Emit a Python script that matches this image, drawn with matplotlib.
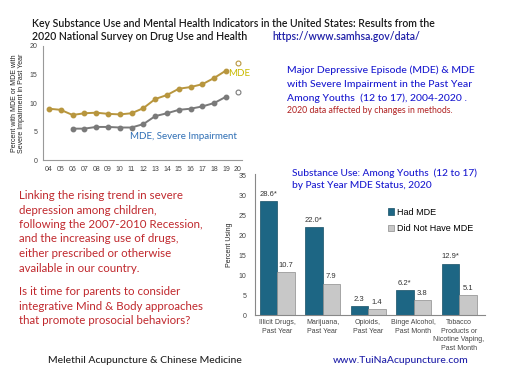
import matplotlib
matplotlib.use("Agg")
import matplotlib.pyplot as plt
from matplotlib.patches import Patch

# line chart data (MDE among youths 12-17)
years = [2004, 2005, 2006, 2007, 2008, 2009, 2010, 2011, 2012, 2013, 2014, 2015, 2016, 2017, 2018, 2019]
mde = [9.0, 8.8, 7.9, 8.2, 8.3, 8.1, 8.0, 8.2, 9.1, 10.7, 11.4, 12.5, 12.8, 13.3, 14.4, 15.7]
sev_years = [2006, 2007, 2008, 2009, 2010, 2011, 2012, 2013, 2014, 2015, 2016, 2017, 2018, 2019]
sev = [5.5, 5.5, 5.8, 5.8, 5.7, 5.7, 6.3, 7.7, 8.2, 8.8, 9.0, 9.4, 10.0, 11.1]
mde_2020 = 17.0
sev_2020 = 12.0
year_labels = ["04", "05", "06", "07", "08", "09", "10", "11", "12", "13",
               "14", "15", "16", "17", "18", "19", "20"]

# bar chart data
categories = ["Illicit Drugs,\nPast Year", "Marijuana,\nPast Year", "Opioids,\nPast Year",
              "Binge Alcohol,\nPast Month", "Tobacco\nProducts or\nNicotine Vaping,\nPast Month"]
had_mde = [28.6, 22.0, 2.3, 6.2, 12.9]
no_mde = [10.7, 7.9, 1.4, 3.8, 5.1]
had_lbl = ["28.6*", "22.0*", "2.3", "6.2*", "12.9*"]
no_lbl = ["10.7", "7.9", "1.4", "3.8", "5.1"]

W, H = 512, 384
fig = plt.figure(figsize=(5.12, 3.84), dpi=100)
fig.patch.set_facecolor("white")

def px(x, y):
    return x / W, 1 - y / H

def rect(x0, y0, x1, y1):
    return [x0 / W, 1 - y1 / H, (x1 - x0) / W, (y1 - y0) / H]

body = "Lato"
narrow = ["Liberation Sans Narrow", "Liberation Sans", "DejaVu Sans"]
gray_txt = "#444444"

# ---- line chart
ax1 = fig.add_axes(rect(43, 46, 242, 160))
ax1.plot(years, mde, color="#b8963e", lw=1.4, marker="o", ms=3.2)
ax1.plot(sev_years, sev, color="#7a7a7a", lw=1.4, marker="o", ms=3.2)
ax1.plot([2020], [mde_2020], marker="o", ms=3.5, mfc="white", mec="#b8963e", mew=0.8)
ax1.plot([2020], [sev_2020], marker="o", ms=3.5, mfc="white", mec="#7a7a7a", mew=0.8)
ax1.set_xlim(2003.5, 2020.35)
ax1.set_ylim(0, 20)
ax1.set_yticks([0, 5, 10, 15, 20])
ax1.set_xticks(list(range(2004, 2021)))
ax1.set_xticklabels(year_labels)
ax1.tick_params(length=0, labelsize=5, colors=gray_txt, pad=4)
for lab in ax1.get_xticklabels() + ax1.get_yticklabels():
    lab.set_family(narrow)
for s in ["top", "right"]:
    ax1.spines[s].set_visible(False)
for s in ["left", "bottom"]:
    ax1.spines[s].set_color("#999999")
    ax1.spines[s].set_linewidth(0.8)
ax1.set_ylabel("Percent with MDE or MDE with\nSevere Impairment in Past Year",
               fontsize=5, family=narrow, color="#222222", linespacing=1.0)
ax1.yaxis.set_label_coords(-0.09, 0.5)
fig.text(*px(228, 73), "MDE", fontsize=7, family=body, color="#c9ba00", va="center")
fig.text(*px(130, 137), "MDE, Severe Impairment", fontsize=7, family=body,
         color="#2f6fb5", va="center")

# ---- bar chart
ax2 = fig.add_axes(rect(255, 173.7, 485, 315))
xs = list(range(len(categories)))
bw = 0.385
ax2.bar([x - bw / 2 for x in xs], had_mde, bw, color="#1d6684", edgecolor="#164f66", lw=0.5)
ax2.bar([x + bw / 2 for x in xs], no_mde, bw, color="#c8c8c8", edgecolor="#8c8c8c", lw=0.5)
for x, v, t in zip(xs, had_mde, had_lbl):
    ax2.text(x - bw / 2, v + 0.8, t, ha="center", va="bottom", fontsize=5.5,
             family=narrow, color="#333333")
for x, v, t in zip(xs, no_mde, no_lbl):
    ax2.text(x + bw / 2, v + 0.8, t, ha="center", va="bottom", fontsize=5.5,
             family=narrow, color="#333333")
ax2.set_xlim(-0.484, 4.57)
ax2.set_ylim(0, 35.5)
ax2.set_yticks(range(0, 36, 5))
ax2.set_xticks(xs)
ax2.set_xticklabels(categories, linespacing=1.3)
ax2.tick_params(length=0, labelsize=5, colors=gray_txt, pad=3)
ax2.tick_params(axis="y", pad=6)
for lab in ax2.get_xticklabels() + ax2.get_yticklabels():
    lab.set_family(narrow)
for lab in ax2.get_xticklabels():
    lab.set_va("top")
for s in ["top", "right"]:
    ax2.spines[s].set_visible(False)
for s in ["left", "bottom"]:
    ax2.spines[s].set_color("#888888")
    ax2.spines[s].set_linewidth(0.8)
ax2.set_ylabel("Percent Using", fontsize=5, family=narrow, color="#222222", labelpad=4)
handles = [Patch(facecolor="#1d6684", edgecolor="#164f66", lw=0.5, label="Had MDE"),
           Patch(facecolor="#c8c8c8", edgecolor="#8c8c8c", lw=0.5, label="Did Not Have MDE")]
fig.legend(handles=handles, loc="upper left", bbox_to_anchor=px(384, 204), frameon=False,
           prop={"family": narrow, "size": 6.5}, handlelength=0.7, handleheight=0.7,
           handletextpad=0.3, labelspacing=0.8, borderaxespad=0)

# ---- texts
title_c = "#1a1a1a"
fig.text(*px(32, 26.7), "Key Substance Use and Mental Health Indicators in the United States: Results from the",
         fontsize=7.6, family=body, weight="semibold", color=title_c, va="baseline")
fig.text(*px(32, 40), "2020 National Survey on Drug Use and Health",
         fontsize=7.6, family=body, weight="semibold", color=title_c, va="baseline")
fig.text(*px(272, 40), "https://www.samhsa.gov/data/",
         fontsize=7.6, family=body, weight="semibold", color="#1f1fa8", va="baseline")

blue = "#1a1ad0"
for yb, t in [(73, "Major Depressive Episode (MDE) & MDE"),
              (87, "with Severe Impairment in the Past Year"),
              (101, "Among Youths  (12 to 17), 2004-2020 .")]:
    fig.text(*px(287, yb), t, fontsize=7.5, family=body, weight="medium", color=blue, va="baseline")
fig.text(*px(287, 113), "2020 data affected by changes in methods.",
         fontsize=6.3, family=body, color="#b02020", va="baseline")

for yb, t in [(176, "Substance Use: Among Youths  (12 to 17)"),
              (188, "by Past Year MDE Status, 2020")]:
    fig.text(*px(292, yb), t, fontsize=7.3, family=body, weight="medium", color=blue, va="baseline")

red = "#c0282d"
para1 = ["Linking the rising trend in severe", "depression among children,",
         "following the 2007-2010 Recession,", "and the increasing use of drugs,",
         "either prescribed or otherwise", "available in our country."]
for i, t in enumerate(para1):
    fig.text(*px(19, 199 + i * 14.5), t, fontsize=8.3, family=body, color=red, va="baseline")
para2 = ["Is it time for parents to consider", "integrative Mind & Body approaches",
         "that promote prosocial behaviors?"]
for i, t in enumerate(para2):
    fig.text(*px(19, 295 + i * 14.5), t, fontsize=8.3, family=body, color=red, va="baseline")

fig.text(*px(48, 363), "Melethil Acupuncture & Chinese Medicine", fontsize=7.5, family=body,
         weight="medium", color="#222222", va="baseline")
fig.text(*px(333, 363), "www.TuiNaAcupuncture.com", fontsize=7.5, family=body,
         weight="medium", color="#1f1fa8", va="baseline")

fig.savefig("out.png", dpi=100, facecolor="white")
